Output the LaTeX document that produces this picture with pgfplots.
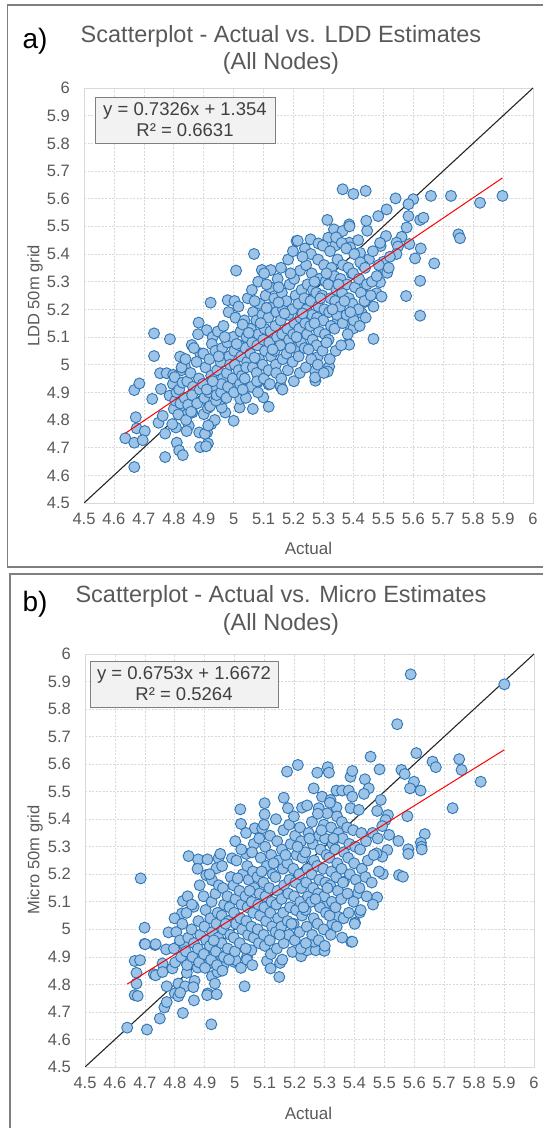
\documentclass[border=0pt]{standalone}
\usepackage{pgfplots}
\pgfplotsset{compat=1.18}
\usepackage{pgfplotstable}
\usepackage{fontspec}
\setmainfont{Liberation Sans}

\definecolor{mfill}{HTML}{9DC3E6}
\definecolor{medge}{HTML}{2E75B6}
\definecolor{txt}{HTML}{595959}
\definecolor{gridc}{HTML}{D9D9D9}
\definecolor{framec}{HTML}{7F7F7F}
\definecolor{eqfill}{HTML}{F2F2F2}

% panel a: actual vs LDD 50m grid
\pgfplotstableread{
x y
4.638 4.734
4.668 4.630
4.668 4.718
4.673 4.810
4.676 4.770
4.668 4.908
4.685 4.932
4.703 4.760
4.696 4.727
4.728 4.876
4.734 5.113
4.734 5.031
4.749 4.790
4.763 4.815
4.771 4.751
4.771 4.666
4.757 4.912
4.786 4.888
4.787 5.092
4.754 4.969
4.776 4.969
4.798 4.963
4.826 4.980
4.837 4.992
4.821 5.029
4.860 5.071
4.888 5.041
4.910 5.125
4.930 5.100
4.883 5.152
4.923 5.224
4.980 5.233
5.008 5.340
5.068 5.400
5.094 5.342
5.124 5.342
5.210 5.447
4.807 4.773
4.810 4.718
4.818 4.690
4.830 4.673
4.820 4.845
4.827 4.870
4.844 4.820
4.850 4.779
4.862 4.827
4.888 4.702
4.914 4.715
4.911 4.755
4.885 4.755
4.925 4.785
4.937 4.800
4.900 4.821
4.914 4.843
4.972 4.827
4.960 4.845
4.960 4.876
5.000 4.797
5.020 4.845
5.022 4.876
5.035 4.906
5.064 4.840
5.099 4.882
5.117 4.848
5.117 4.928
5.157 4.920
4.990 4.924
5.080 4.936
5.273 4.942
5.364 5.634
5.400 5.617
5.441 5.628
5.541 5.601
5.600 5.598
5.584 5.580
5.659 5.610
5.726 5.610
5.823 5.585
5.898 5.610
5.483 5.537
5.511 5.561
5.584 5.537
5.623 5.523
5.634 5.531
5.313 5.523
5.386 5.507
5.335 5.489
5.364 5.483
5.446 5.484
5.578 5.496
5.561 5.462
5.509 5.465
5.751 5.471
5.756 5.457
5.544 5.441
5.549 5.427
5.587 5.436
5.625 5.420
5.491 5.429
5.489 5.440
5.544 5.400
5.606 5.384
5.670 5.366
5.214 5.448
5.257 5.453
5.283 5.438
5.316 5.459
5.339 5.430
5.386 5.441
5.389 5.424
5.422 5.404
5.452 5.381
5.433 5.357
5.500 5.372
5.506 5.342
5.513 5.332
5.623 5.303
5.576 5.248
5.623 5.177
5.467 5.093
5.383 5.075
5.386 5.072
5.389 5.141
5.400 5.131
5.478 5.258
5.494 5.246
5.489 5.298
5.467 5.210
5.439 5.227
5.428 5.186
5.350 5.186
5.347 5.158
5.433 5.282
5.394 5.330
5.280 5.027
5.319 4.993
5.314 4.975
5.272 4.978
5.272 4.954
5.157 4.923
4.800 4.840
4.805 4.870
4.797 4.930
4.803 4.955
4.809 4.900
4.795 4.785
4.822 4.860
4.818 4.910
4.826 4.990
4.815 4.820
4.829 4.935
4.841 4.800
4.836 4.880
4.845 4.940
4.839 5.020
4.848 4.855
4.843 4.760
4.858 4.830
4.864 4.920
4.856 4.970
4.867 5.060
4.861 4.890
4.878 4.860
4.884 4.950
4.876 5.010
4.887 4.910
4.881 5.110
4.902 4.880
4.897 4.930
4.906 4.990
4.899 5.040
4.904 4.750
4.908 4.705
4.921 4.850
4.917 4.900
4.925 4.960
4.919 5.020
4.927 5.075
4.915 4.780
4.941 4.870
4.936 4.920
4.945 4.980
4.939 5.050
4.947 5.120
4.943 4.890
4.958 4.900
4.964 4.950
4.956 5.010
4.962 5.060
4.966 5.140
4.959 4.930
4.981 4.920
4.977 4.970
4.985 5.030
4.979 5.080
4.983 5.190
4.976 4.880
4.988 5.000
5.001 4.900
4.997 4.950
5.004 5.000
5.002 5.050
4.998 5.100
5.006 5.170
5.003 5.230
5.021 4.930
5.017 4.980
5.025 5.030
5.019 5.070
5.023 5.120
5.016 5.210
5.028 4.960
5.041 4.880
5.037 4.950
5.045 5.010
5.039 5.060
5.043 5.100
5.036 5.160
5.047 5.240
5.042 4.990
5.059 4.920
5.064 4.990
5.056 5.040
5.062 5.080
5.057 5.130
5.065 5.190
5.061 5.270
5.081 4.900
5.077 4.970
5.085 5.020
5.079 5.070
5.083 5.110
5.076 5.160
5.087 5.220
5.082 5.300
5.078 4.940
5.101 4.950
5.097 5.000
5.105 5.050
5.099 5.090
5.103 5.130
5.096 5.180
5.107 5.250
5.102 5.330
5.121 4.930
5.117 4.980
5.125 5.030
5.119 5.080
5.123 5.120
5.116 5.170
5.127 5.210
5.122 5.280
5.141 5.000
5.137 5.050
5.145 5.100
5.139 5.140
5.143 5.190
5.136 5.240
5.147 5.310
5.142 4.970
5.159 4.950
5.164 5.020
5.156 5.070
5.162 5.110
5.157 5.160
5.165 5.200
5.161 5.260
5.158 5.350
5.163 4.910
5.181 4.980
5.177 5.040
5.185 5.090
5.179 5.130
5.183 5.180
5.176 5.230
5.187 5.290
5.182 5.380
5.201 4.940
5.197 5.010
5.205 5.060
5.199 5.110
5.203 5.150
5.196 5.200
5.207 5.250
5.202 5.310
5.198 5.410
5.221 4.970
5.217 5.030
5.225 5.080
5.219 5.130
5.223 5.170
5.216 5.220
5.227 5.270
5.222 5.340
5.241 4.990
5.237 5.060
5.245 5.110
5.239 5.150
5.243 5.200
5.236 5.240
5.247 5.290
5.242 5.360
5.238 5.420
5.259 5.020
5.264 5.090
5.256 5.140
5.262 5.180
5.257 5.230
5.265 5.270
5.261 5.330
5.258 5.400
5.281 5.000
5.277 5.070
5.285 5.120
5.279 5.170
5.283 5.210
5.276 5.260
5.287 5.310
5.282 5.380
5.301 4.970
5.297 5.050
5.305 5.110
5.299 5.160
5.303 5.200
5.296 5.250
5.307 5.300
5.302 5.360
5.298 5.430
5.321 5.020
5.317 5.090
5.325 5.140
5.319 5.190
5.323 5.240
5.316 5.290
5.327 5.350
5.322 5.410
5.341 5.050
5.337 5.130
5.345 5.180
5.339 5.230
5.343 5.270
5.336 5.320
5.347 5.380
5.342 5.460
5.359 5.070
5.364 5.150
5.356 5.210
5.362 5.260
5.357 5.310
5.365 5.360
5.361 5.440
5.381 5.110
5.377 5.180
5.385 5.240
5.379 5.290
5.383 5.350
5.376 5.420
5.387 5.500
5.401 5.160
5.397 5.220
5.405 5.280
5.399 5.330
5.403 5.400
5.421 5.140
5.417 5.200
5.425 5.260
5.419 5.310
5.423 5.370
5.416 5.450
5.441 5.170
5.437 5.230
5.445 5.290
5.439 5.350
5.443 5.520
5.462 5.300
5.458 5.250
5.465 5.410
5.478 5.320
5.485 5.360
5.522 5.390
5.518 5.350
5.010 5.075
5.030 5.145
5.050 5.115
5.070 5.025
5.090 5.150
5.110 5.205
5.130 5.055
5.150 5.225
5.170 5.185
5.190 5.060
5.210 5.100
5.230 5.185
5.250 5.055
5.270 5.150
5.290 5.240
5.310 5.080
5.330 5.200
5.350 5.290
5.370 5.230
5.390 5.190
5.030 4.910
5.070 5.230
5.110 5.290
5.150 5.280
5.190 5.330
5.230 5.390
5.270 5.300
5.310 5.330
4.950 5.030
4.970 5.100
4.930 4.940
4.910 4.910
}\ldddata

% panel b: actual vs Micro 50m grid
\pgfplotstableread{
x y
4.686 5.185
4.699 5.006
4.699 4.947
4.734 4.943
4.779 4.989
4.827 5.103
4.846 5.266
4.878 5.254
4.909 5.254
4.946 5.258
4.952 5.274
4.905 5.197
4.924 5.179
4.939 5.222
4.991 5.258
5.019 5.436
5.021 5.383
5.039 5.274
5.067 5.367
5.092 5.367
5.100 5.458
5.100 5.418
5.064 5.310
5.164 5.478
5.175 5.573
5.211 5.597
4.824 5.058
4.863 5.082
5.543 5.745
5.607 5.640
5.454 5.627
5.276 5.569
5.311 5.589
5.315 5.569
5.387 5.554
5.393 5.575
5.484 5.581
5.557 5.579
5.568 5.564
5.599 5.536
5.586 5.512
5.621 5.504
5.661 5.609
5.672 5.589
5.750 5.618
5.758 5.579
5.822 5.536
5.728 5.440
5.435 5.545
5.448 5.512
5.432 5.492
5.264 5.512
5.292 5.482
5.320 5.470
5.340 5.504
5.359 5.504
5.381 5.504
5.393 5.482
5.225 5.442
5.281 5.440
5.309 5.421
5.340 5.443
5.387 5.440
5.415 5.434
5.488 5.470
5.476 5.430
5.512 5.415
5.504 5.397
5.493 5.375
5.577 5.411
5.516 5.343
5.547 5.321
5.635 5.346
5.622 5.315
5.624 5.300
5.625 5.290
5.580 5.291
5.580 5.274
5.549 5.197
5.562 5.191
5.495 5.201
5.510 5.288
5.493 5.264
5.474 5.276
5.412 5.131
5.476 5.116
5.418 5.061
5.402 5.024
5.389 4.955
5.345 5.046
5.326 5.019
5.309 5.095
5.365 5.173
5.264 4.961
5.588 5.926
5.901 5.890
4.641 4.643
4.707 4.636
4.666 4.885
4.672 4.842
4.672 4.803
4.666 4.761
4.676 4.758
4.684 4.888
4.701 4.946
4.736 4.946
4.730 4.837
4.736 4.833
4.759 4.876
4.759 4.845
4.750 4.676
4.765 4.716
4.773 4.736
4.771 4.927
4.773 4.793
4.792 4.858
4.800 4.767
4.812 4.803
4.812 4.757
4.827 4.696
4.806 4.934
4.829 4.948
4.835 4.885
4.840 4.842
4.835 4.793
4.864 4.742
4.866 4.813
4.876 4.861
4.885 4.910
4.899 4.912
4.910 4.767
4.908 4.761
4.940 4.764
4.922 4.655
4.910 4.873
4.924 4.830
4.934 4.803
4.943 4.845
4.957 4.902
4.963 4.870
4.998 4.882
5.003 4.888
5.033 4.793
5.041 4.900
5.056 4.924
5.108 4.885
5.120 4.858
5.149 4.827
5.152 4.878
5.193 4.918
5.222 4.902
5.242 4.924
5.271 4.924
5.300 4.922
5.265 4.955
5.393 4.955
4.801 4.880
4.797 4.930
4.805 4.990
4.799 5.040
4.821 4.900
4.817 4.960
4.825 5.020
4.818 4.770
4.841 4.870
4.837 4.920
4.845 4.970
4.839 5.060
4.843 5.120
4.859 4.900
4.864 4.950
4.856 5.000
4.862 4.790
4.857 5.090
4.881 4.880
4.877 4.930
4.885 4.980
4.879 5.030
4.883 5.160
4.876 5.220
4.901 4.860
4.897 4.910
4.905 4.960
4.899 5.010
4.903 5.070
4.896 5.120
4.921 4.890
4.917 4.940
4.925 4.990
4.919 5.040
4.923 5.100
4.916 5.200
4.941 4.870
4.937 4.920
4.945 4.970
4.939 5.020
4.943 5.060
4.936 5.130
4.947 5.160
4.959 4.850
4.964 4.900
4.956 4.950
4.962 5.000
4.957 5.050
4.965 5.090
4.961 5.150
4.958 5.230
4.981 4.890
4.977 4.930
4.985 4.980
4.979 5.030
4.983 5.080
4.976 5.120
4.987 5.190
5.001 4.920
4.997 4.970
5.004 5.020
4.998 5.060
5.003 5.110
4.996 5.160
5.006 5.250
5.002 5.320
5.021 4.860
5.017 4.950
5.025 5.000
5.019 5.040
5.023 5.090
5.016 5.140
5.027 5.200
5.022 5.290
5.041 4.890
5.037 4.930
5.045 4.980
5.039 5.030
5.043 5.080
5.036 5.120
5.047 5.180
5.042 5.230
5.038 5.350
5.059 4.870
5.064 4.970
5.056 5.010
5.062 5.060
5.057 5.100
5.065 5.150
5.061 5.210
5.058 5.280
5.081 4.950
5.077 5.000
5.085 5.050
5.079 5.090
5.083 5.130
5.076 5.190
5.087 5.260
5.082 5.330
5.101 4.940
5.097 4.980
5.105 5.030
5.099 5.080
5.103 5.120
5.096 5.170
5.107 5.230
5.102 5.300
5.098 5.380
5.121 4.910
5.117 4.960
5.125 5.010
5.119 5.060
5.123 5.100
5.116 5.150
5.127 5.200
5.122 5.270
5.118 5.340
5.141 4.930
5.137 4.990
5.145 5.040
5.139 5.090
5.143 5.140
5.136 5.190
5.147 5.250
5.142 5.320
5.138 5.400
5.159 4.890
5.164 4.950
5.156 5.010
5.162 5.060
5.157 5.110
5.165 5.160
5.161 5.220
5.158 5.290
5.163 5.360
5.181 4.980
5.177 5.030
5.185 5.080
5.179 5.130
5.183 5.180
5.176 5.240
5.187 5.310
5.182 5.380
5.178 5.440
5.201 4.960
5.197 5.020
5.205 5.070
5.199 5.120
5.203 5.170
5.196 5.220
5.207 5.270
5.202 5.340
5.198 5.410
5.221 4.930
5.217 4.990
5.225 5.050
5.219 5.100
5.223 5.150
5.216 5.200
5.227 5.260
5.222 5.320
5.218 5.370
5.241 5.010
5.237 5.070
5.245 5.120
5.239 5.170
5.243 5.220
5.236 5.280
5.247 5.350
5.242 5.450
5.238 4.950
5.259 4.980
5.264 5.040
5.256 5.100
5.262 5.150
5.257 5.200
5.265 5.250
5.261 5.310
5.258 5.390
5.281 4.960
5.277 5.020
5.285 5.080
5.279 5.130
5.283 5.180
5.276 5.230
5.287 5.290
5.282 5.340
5.278 5.420
5.301 4.940
5.297 5.000
5.305 5.060
5.299 5.120
5.303 5.170
5.296 5.220
5.307 5.270
5.302 5.330
5.298 5.380
5.321 4.980
5.317 5.050
5.325 5.100
5.319 5.160
5.323 5.210
5.316 5.260
5.327 5.310
5.322 5.370
5.318 5.460
5.341 5.010
5.337 5.080
5.345 5.140
5.339 5.190
5.343 5.240
5.336 5.290
5.347 5.350
5.342 5.410
5.359 4.970
5.364 5.040
5.356 5.110
5.362 5.170
5.357 5.220
5.365 5.280
5.361 5.330
5.358 5.390
5.381 5.060
5.377 5.130
5.385 5.200
5.379 5.260
5.383 5.310
5.376 5.370
5.401 5.020
5.397 5.100
5.405 5.180
5.399 5.240
5.403 5.300
5.396 5.360
5.421 5.070
5.417 5.150
5.425 5.220
5.419 5.290
5.423 5.350
5.441 5.120
5.437 5.190
5.445 5.250
5.439 5.320
5.462 5.090
5.458 5.170
5.465 5.270
5.461 5.350
5.482 5.210
5.478 5.330
5.010 5.185
5.050 5.140
5.090 5.210
5.130 5.240
5.170 5.270
5.210 5.300
5.250 5.330
5.290 5.360
5.330 5.330
5.150 4.980
5.190 5.020
5.230 5.080
5.270 5.110
5.310 5.150
4.970 5.020
4.930 4.960
}\microdata

\pgfplotsset{
  panel/.style={
    set layers,
    scale only axis, width=449pt,
    xmin=4.5, xmax=6, ymin=4.5, ymax=6,
    xtick={4.5,4.6,4.7,4.8,4.9,5,5.1,5.2,5.3,5.4,5.5,5.6,5.7,5.8,5.9,6},
    ytick={4.5,4.6,4.7,4.8,4.9,5,5.1,5.2,5.3,5.4,5.5,5.6,5.7,5.8,5.9,6},
    grid=major,
    grid style={gridc, dash pattern=on 2pt off 1.5pt, line width=0.7pt},
    axis line style={draw=gridc, line width=0.8pt},
    major tick length=0pt,
    tick style={draw=none},
    /pgf/number format/assume math mode=true,
    ticklabel style={font=\fontsize{16.5}{19}\selectfont, text=txt, inner sep=0pt},
    xticklabel style={anchor=north, yshift=-10pt},
    yticklabel style={anchor=east, xshift=-14pt},
  },
  pts/.style={only marks, mark=*, mark size=5.5pt,
    mark options={fill=mfill, draw=medge, line width=0.9pt}},
  trend/.style={color=red, line width=1pt, on layer=axis foreground},
}

\begin{document}
\begin{tikzpicture}[x=1pt, y=1pt]
% frames
\draw[framec, line width=1.6pt] (7.5,561) rectangle (560,1123);
\draw[framec, line width=1.6pt] (10,-20) rectangle (560,554);

% ---- panel a
\node[anchor=base west, font=\fontsize{28}{30}\selectfont] at (19,1079) {a)};
\node[anchor=base, text=txt, font=\fontsize{23.5}{27}\selectfont] at (281,1085) {Scatterplot - Actual vs. LDD Estimates};
\node[anchor=base, text=txt, font=\fontsize{23.5}{27}\selectfont] at (281,1058) {(All Nodes)};
\begin{axis}[panel, height=415pt, at={(84pt,625pt)}, anchor=south west]
\addplot[color=black!85, line width=1.1pt] coordinates {(4.5,4.5) (6,6)};
\addplot[pts] table[x=x, y=y] {\ldddata};
\addplot[trend] coordinates {(4.638,4.7518) (5.898,5.6749)};
\end{axis}
\node[rotate=90, text=txt, font=\fontsize{16.5}{19}\selectfont] at (35,832) {LDD 50m grid};
\node[anchor=base, text=txt, font=\fontsize{17}{20}\selectfont] at (308.5,573) {Actual};
\node[fill=eqfill, draw=framec, line width=0.8pt, minimum width=180pt, minimum height=46pt,
  align=center, text=black!75, font=\fontsize{18.5}{21}\selectfont, inner sep=2pt] at (185,1008)
  {y = 0.7326x + 1.354\\R² = 0.6631};

% ---- panel b
\node[anchor=base west, font=\fontsize{28}{30}\selectfont] at (19,516) {b)};
\node[anchor=base, text=txt, font=\fontsize{23.5}{27}\selectfont] at (281,525) {Scatterplot - Actual vs. Micro Estimates};
\node[anchor=base, text=txt, font=\fontsize{23.5}{27}\selectfont] at (281,497) {(All Nodes)};
\begin{axis}[panel, height=413pt, at={(85pt,61pt)}, anchor=south west]
\addplot[color=black!85, line width=1.1pt] coordinates {(4.5,4.5) (6,6)};
\addplot[pts] table[x=x, y=y] {\microdata};
\addplot[trend] coordinates {(4.641,4.8013) (5.901,5.6522)};
\end{axis}
\node[rotate=90, text=txt, font=\fontsize{16.5}{19}\selectfont] at (35,268) {Micro 50m grid};
\node[anchor=base, text=txt, font=\fontsize{17}{20}\selectfont] at (308.5,9) {Actual};
\node[fill=eqfill, draw=framec, line width=0.8pt, minimum width=188pt, minimum height=46pt,
  align=center, text=black!75, font=\fontsize{18.5}{21}\selectfont, inner sep=2pt] at (184,444)
  {y = 0.6753x + 1.6672\\R² = 0.5264};

\pgfresetboundingbox
\path[use as bounding box] (0,0) rectangle (543,1128);
\end{tikzpicture}
\end{document}
